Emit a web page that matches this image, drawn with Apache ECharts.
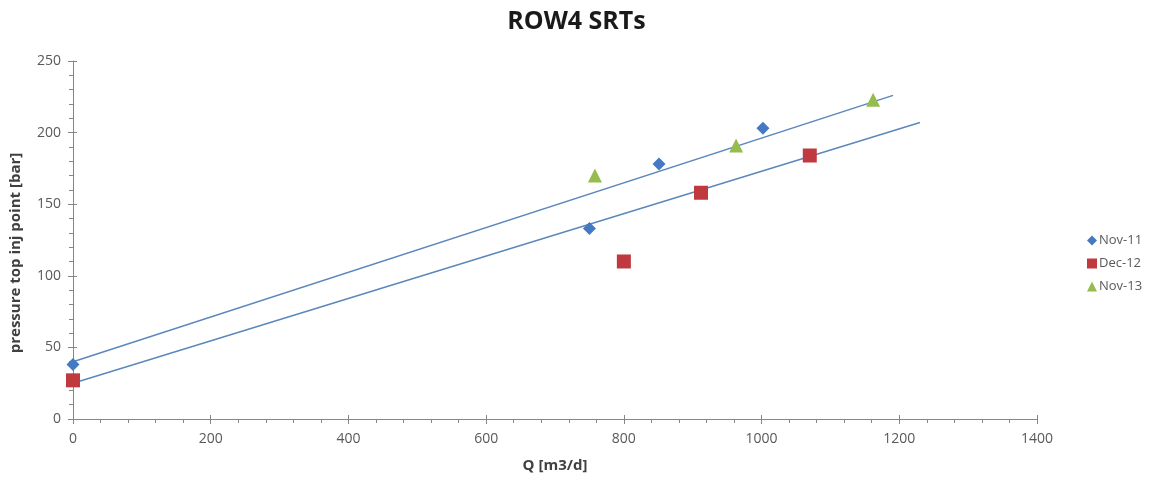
<!DOCTYPE html>
<html>
<head>
<meta charset="utf-8">
<style>
  html, body { margin: 0; padding: 0; background: #fff; }
  #chart { width: 1153px; height: 481px; }
</style>
<script src="https://cdn.jsdelivr.net/npm/echarts@6/dist/echarts.min.js"></script>
</head>
<body>
<div id="chart"></div>
<script>
// Injection tests: flow rate Q [m3/d] vs. pressure at top injection point [bar]
const seriesNames = ['Nov-11', 'Dec-12', 'Nov-13'];

const nov11Q = [0, 750, 851, 1002];
const nov11P = [38, 133, 178, 203];

const dec12Q = [0, 800, 912, 1070];
const dec12P = [27, 110, 158, 184];

const nov13Q = [758, 963, 1162];
const nov13P = [170, 191, 223];

// Linear trend lines (start / end points)
const trendUpperQ = [0, 1191];
const trendUpperP = [40, 226];
const trendLowerQ = [0, 1230];
const trendLowerP = [25, 207];

const xTicks = [0, 200, 400, 600, 800, 1000, 1200, 1400];
const yTicks = [0, 50, 100, 150, 200, 250];

const zip = (xs, ys) => xs.map((x, i) => [x, ys[i]]);

const FONT = 'Open Sans';
const AXIS_COLOR = '#868686';
const LABEL_COLOR = '#595959';

const xBase = {
  type: 'value', min: xTicks[0], max: xTicks[xTicks.length - 1], interval: 200,
  splitLine: { show: false }
};
const yBase = {
  type: 'value', min: yTicks[0], max: yTicks[yTicks.length - 1], interval: 50,
  splitLine: { show: false }
};

const chart = echarts.init(document.getElementById('chart'), null, { renderer: 'canvas' });

chart.setOption({
  backgroundColor: '#ffffff',
  animation: false,
  title: {
    text: 'ROW4 SRTs',
    left: 'center',
    top: 4,
    textStyle: { fontFamily: FONT, fontSize: 25, fontWeight: 'bold', color: '#1a1a1a' }
  },
  grid: { left: 73, right: 116, top: 61, bottom: 62 },
  legend: {
    orient: 'vertical',
    left: 1082,
    top: 229,
    itemGap: 10,
    itemWidth: 10,
    itemHeight: 10,
    textStyle: { fontFamily: FONT, fontSize: 13, color: LABEL_COLOR, padding: [0, 0, 0, -3] },
    data: [
      { name: seriesNames[0], icon: 'diamond' },
      { name: seriesNames[1], icon: 'rect' },
      { name: seriesNames[2], icon: 'triangle' }
    ]
  },
  xAxis: [
    Object.assign({}, xBase, {
      name: 'Q [m3/d]',
      nameLocation: 'middle',
      nameGap: 39,
      nameTextStyle: { fontFamily: FONT, fontSize: 15, fontWeight: 'bold', color: '#404040' },
      axisLine: { show: true, lineStyle: { color: AXIS_COLOR, width: 1 } },
      axisTick: { show: true, length: 5, lineStyle: { color: AXIS_COLOR } },
      minorTick: { show: true, splitNumber: 5, length: 4, lineStyle: { color: AXIS_COLOR } },
      axisLabel: {
        fontFamily: FONT, fontSize: 14, color: LABEL_COLOR, margin: 13,
        formatter: v => String(v)
      }
    }),
    Object.assign({}, xBase, {
      position: 'bottom',
      axisLine: { show: false },
      axisTick: { show: true, inside: true, length: 4, lineStyle: { color: AXIS_COLOR } },
      axisLabel: { show: false }
    })
  ],
  yAxis: [
    Object.assign({}, yBase, {
      axisLine: { show: true, lineStyle: { color: AXIS_COLOR, width: 1 } },
      axisTick: { show: true, length: 5, lineStyle: { color: AXIS_COLOR } },
      minorTick: { show: true, splitNumber: 5, length: 4, lineStyle: { color: AXIS_COLOR } },
      axisLabel: { fontFamily: FONT, fontSize: 14, color: LABEL_COLOR, margin: 12 }
    }),
    Object.assign({}, yBase, {
      position: 'left',
      axisLine: { show: false },
      axisTick: { show: true, inside: true, length: 4, lineStyle: { color: AXIS_COLOR } },
      axisLabel: { show: false }
    })
  ],
  graphic: [{
    type: 'text',
    x: 16,
    y: 253,
    rotation: Math.PI / 2,
    style: {
      text: 'pressure top inj point [bar]',
      fontFamily: FONT,
      fontSize: 15,
      fontWeight: 'bold',
      fill: '#404040',
      align: 'center',
      verticalAlign: 'middle'
    }
  }],
  series: [
    {
      type: 'line', data: zip(trendUpperQ, trendUpperP), symbol: 'none', silent: true,
      lineStyle: { color: '#5a87bd', width: 1.5 }, z: 2
    },
    {
      type: 'line', data: zip(trendLowerQ, trendLowerP), symbol: 'none', silent: true,
      lineStyle: { color: '#5a87bd', width: 1.5 }, z: 2
    },
    {
      name: seriesNames[0], type: 'scatter', symbol: 'diamond', symbolSize: 13,
      itemStyle: { color: '#4479c4', opacity: 1 }, data: zip(nov11Q, nov11P), z: 3
    },
    {
      name: seriesNames[1], type: 'scatter', symbol: 'rect', symbolSize: 14,
      itemStyle: { color: '#c0393f', opacity: 1 }, data: zip(dec12Q, dec12P), z: 3
    },
    {
      name: seriesNames[2], type: 'scatter', symbol: 'triangle', symbolSize: 14,
      itemStyle: { color: '#96bc4f', opacity: 1 }, data: zip(nov13Q, nov13P), z: 3
    }
  ]
});
</script>
</body>
</html>
